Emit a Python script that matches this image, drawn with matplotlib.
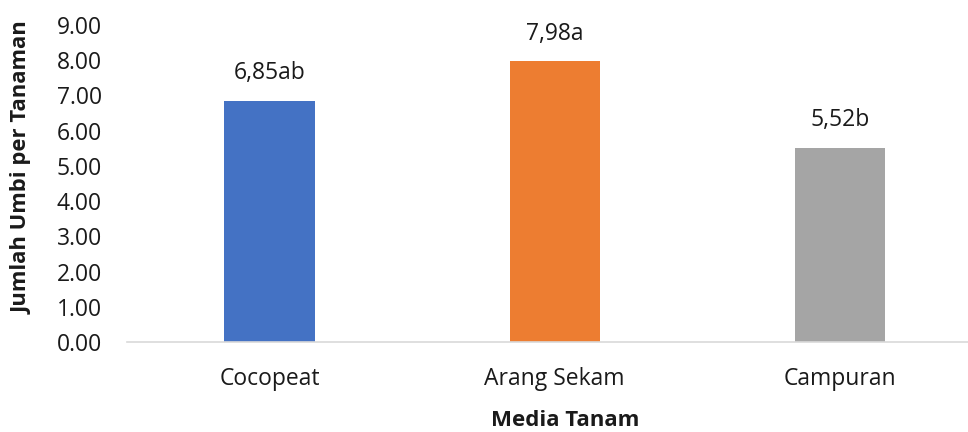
import matplotlib
matplotlib.use("Agg")
import matplotlib.pyplot as plt

categories = ["Cocopeat", "Arang Sekam", "Campuran"]
values = [6.85, 7.98, 5.52]
value_labels = ["6,85ab", "7,98a", "5,52b"]
colors = ["#4472C4", "#ED7D31", "#A5A5A5"]
y_ticks = [0, 1, 2, 3, 4, 5, 6, 7, 8, 9]

plt.rcParams["font.family"] = ["Open Sans", "DejaVu Sans"]

fig = plt.figure(figsize=(9.68, 4.32), dpi=100)
ax = fig.add_axes([127 / 968, 1 - 342 / 432, 1 - 127 / 968, (342 - 25) / 432])

x = list(range(len(categories)))
bars = ax.bar(x, values, width=0.316, color=colors, zorder=2)

for rect, lab in zip(bars, value_labels):
    ax.annotate(lab, (rect.get_x() + rect.get_width() / 2, rect.get_height()),
                xytext=(0, 11), textcoords="offset points",
                ha="center", va="bottom", fontsize=16.5, color="#1a1a1a")

ax.set_xlim(-0.5, 2.45)
ax.set_ylim(0, 9)
ax.set_yticks(y_ticks)
ax.set_yticklabels([f"{v:.2f}" for v in y_ticks], fontsize=16.5, color="#1a1a1a")
ax.set_xticks(x)
ax.set_xticklabels(categories, fontsize=16.5, color="#1a1a1a")
ax.tick_params(axis="y", length=0, pad=18)
ax.tick_params(axis="x", length=0, pad=18)

for side in ["top", "right", "left"]:
    ax.spines[side].set_visible(False)
ax.spines["bottom"].set_color("#D9D9D9")
ax.spines["bottom"].set_linewidth(1.2)

fig.text(22 / 968, 1 - 168 / 432, "Jumlah Umbi per Tanaman", rotation=90,
         ha="center", va="center", fontsize=15.8, fontweight="bold", color="#1a1a1a")
fig.text(565 / 968, 1 - 420 / 432, "Media Tanam",
         ha="center", va="center", fontsize=16, fontweight="bold", color="#1a1a1a")

fig.savefig("out.png", dpi=100)
